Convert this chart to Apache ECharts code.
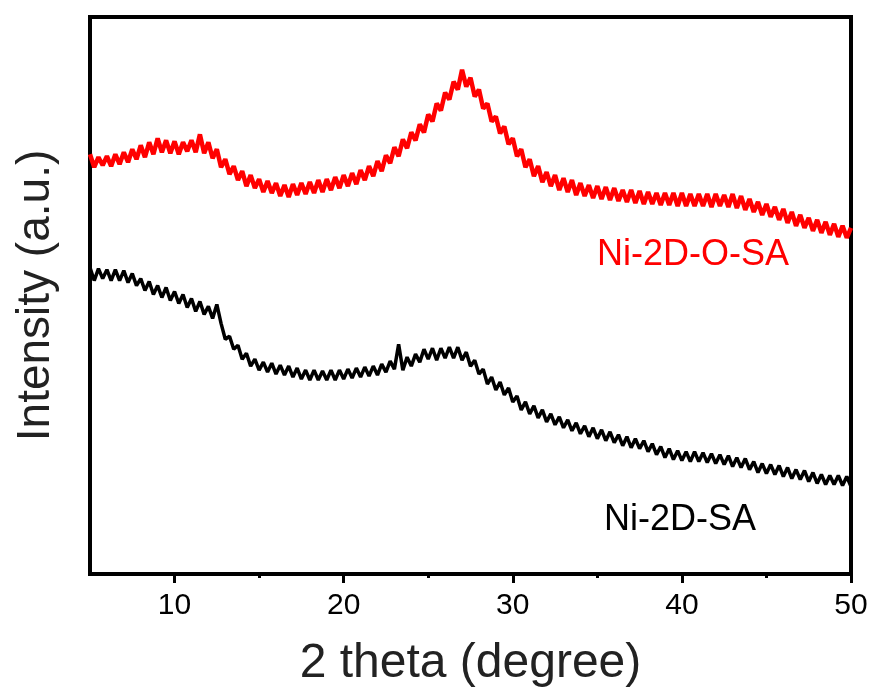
<!DOCTYPE html>
<html>
<head>
<meta charset="utf-8">
<script src="https://cdn.jsdelivr.net/npm/echarts@6/dist/echarts.min.js"></script>
<style>
  html, body { margin: 0; padding: 0; background: #fff; }
  #chart { width: 876px; height: 693px; }
</style>
</head>
<body>
<div id="chart"></div>
<script>
// XRD scan grid: 5–50° 2θ, 0.25° per step
const scanStart = 5;
const scanStep = 0.25;

// Ni-2D-O-SA intensity (a.u.), one row per degree (x.00, x.25, x.50, x.75)
const ni2dOSA = [
  422,409,419,411, 420,410,422,412, 424,414,427,417, 431,419,434,422,
  438,424,436,423, 435,422,434,425, 436,424,442,423, 434,418,427,409,
  417,402,410,396, 405,390,401,388, 397,384,395,383, 393,380,391,379,
  392,381,393,382, 394,383,396,384, 397,386,399,388, 401,390,403,392,
  406,396,410,400, 415,405,421,413, 429,420,437,428, 444,436,452,444,
  462,455,473,466, 484,477,495,487, 507,490,499,480, 487,468,473,455,
  460,443,450,432, 438,420,427,409, 417,400,410,394, 404,390,401,386,
  398,384,396,381, 393,380,391,378, 390,377,389,376, 388,375,386,374,
  386,373,385,372, 384,372,383,371, 383,371,383,370, 383,370,382,370,
  382,370,382,369, 382,370,381,369, 382,368,380,366, 377,364,374,361,
  372,359,369,356, 367,353,364,350, 361,348,358,345, 356,343,354,341,
  352,339,350,338, 348
];

// Ni-2D-SA intensity (a.u.)
const ni2dSA = [
  308,295,307,297, 306,295,306,295, 305,293,302,290, 297,285,294,281,
  290,278,288,275, 284,272,281,268, 277,264,274,261, 269,257,271,252,
  236,239,226,230, 216,222,209,216, 205,213,203,212, 201,210,200,209,
  198,207,196,205, 195,205,195,204, 195,205,195,205, 196,206,197,207,
  198,208,199,209, 200,211,203,214, 206,231,205,218, 209,221,213,226,
  216,227,215,227, 217,228,217,228, 215,223,209,215, 201,206,191,198,
  185,193,180,187, 173,179,165,173, 161,169,157,165, 153,161,150,158,
  147,155,144,152, 141,149,138,147, 136,145,134,143, 132,140,129,138,
  127,136,126,134, 123,131,120,128, 117,126,115,124, 114,123,113,123,
  113,122,112,121, 111,120,110,119, 108,117,107,116, 105,113,102,111,
  101,110,100,109, 98,107,96,105, 95,104,93,102, 91,100,90,99,
  90,99,89,98, 88
];

const majorTicks = [10, 20, 30, 40, 50];
const minorTicks = [15, 25, 35, 45];
const seriesNames = ['Ni-2D-O-SA', 'Ni-2D-SA'];

function pairs(values) {
  return values.map((v, i) => [scanStart + scanStep * i, v]);
}

const chart = echarts.init(document.getElementById('chart'));
const font = '"Liberation Sans", Arial, sans-serif';

chart.setOption({
  backgroundColor: '#fff',
  animation: false,
  grid: {
    left: 90, right: 25, top: 17, bottom: 115,
    show: true, borderColor: '#000', borderWidth: 4, backgroundColor: 'transparent'
  },
  xAxis: [{
    type: 'value', min: 5, max: 50,
    name: '2 theta (degree)', nameLocation: 'middle', nameGap: 66,
    nameTextStyle: { fontFamily: font, fontSize: 48, color: '#222' },
    axisLine: { show: true, lineStyle: { color: '#000', width: 4 } },
    axisTick: { show: true, customValues: majorTicks, length: 9, lineStyle: { color: '#000', width: 3 } },
    axisLabel: { customValues: majorTicks, fontFamily: font, fontSize: 30, color: '#000', margin: 17 },
    splitLine: { show: false }
  }, {
    type: 'value', min: 5, max: 50, position: 'bottom',
    axisLine: { show: false },
    axisTick: { show: true, customValues: minorTicks, length: 4, lineStyle: { color: '#000', width: 3 } },
    axisLabel: { show: false },
    splitLine: { show: false }
  }],
  yAxis: {
    type: 'value', min: 0, max: 560,
    name: 'Intensity (a.u.)', nameLocation: 'middle', nameGap: 31,
    nameTextStyle: { fontFamily: font, fontSize: 46, color: '#222' },
    axisLine: { show: true, lineStyle: { color: '#000', width: 4 } },
    axisTick: { show: false },
    axisLabel: { show: false },
    splitLine: { show: false }
  },
  series: [{
    name: seriesNames[0], type: 'line', xAxisIndex: 0, data: pairs(ni2dOSA),
    showSymbol: false, lineStyle: { color: '#ff0000', width: 4.5 }
  }, {
    name: seriesNames[1], type: 'line', xAxisIndex: 0, data: pairs(ni2dSA),
    showSymbol: false, lineStyle: { color: '#000', width: 3.5 }
  }],
  graphic: [{
    type: 'text', left: 597, top: 237,
    style: { text: seriesNames[0], fill: '#ff0000', font: '36px ' + font }
  }, {
    type: 'text', left: 604, top: 502,
    style: { text: seriesNames[1], fill: '#000', font: '36px ' + font }
  }]
});
</script>
</body>
</html>
